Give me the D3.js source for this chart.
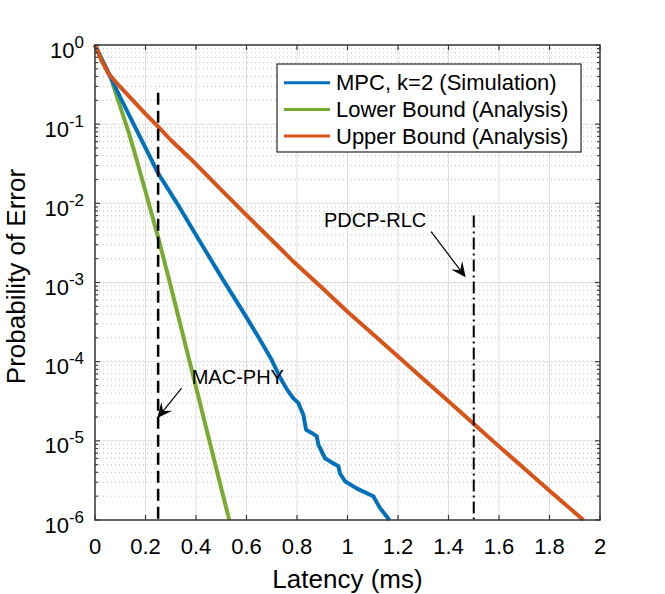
<!DOCTYPE html>
<html>
<head>
<meta charset="utf-8">
<script src="https://cdn.jsdelivr.net/npm/d3@7"></script>
<style>
  body { margin: 0; background: #fff; }
  text { font-family: "Liberation Sans", Arial, sans-serif; fill: #000; }
</style>
</head>
<body>
<div class="chart"></div>
<script>
// values (latency in ms, error as log10 exponent)
const mpcX   = [0, 0.025, 0.05, 0.1, 0.15, 0.2, 0.25, 0.325, 0.4, 0.508, 0.6, 0.653, 0.7, 0.733, 0.76, 0.785, 0.805, 0.825, 0.836, 0.858, 0.878, 0.885, 0.911, 0.931, 0.964, 0.97, 0.99, 1.036, 1.102, 1.129, 1.166];
const mpcExp = [0, -0.17, -0.33, -0.66, -0.98, -1.3, -1.62, -2.0, -2.4, -2.97, -3.44, -3.72, -3.98, -4.2, -4.35, -4.46, -4.52, -4.67, -4.86, -4.9, -4.94, -5.05, -5.22, -5.26, -5.32, -5.41, -5.51, -5.6, -5.7, -5.85, -6.0];

const lowerX   = [0, 0.03, 0.059, 0.1, 0.135, 0.165, 0.2, 0.25, 0.294, 0.363, 0.4, 0.45, 0.5, 0.532];
const lowerExp = [0, -0.2, -0.38, -0.78, -1.12, -1.45, -1.85, -2.43, -2.97, -3.85, -4.32, -4.96, -5.6, -6.0];

const upperX   = [0, 0.025, 0.053, 0.1, 0.15, 0.2, 0.25, 0.3, 0.376, 0.5, 0.6, 0.733, 0.779, 0.9, 1.0, 1.1, 1.208, 1.3, 1.4, 1.505, 1.6, 1.7, 1.8, 1.934];
const upperExp = [0, -0.19, -0.36, -0.53, -0.7, -0.87, -1.03, -1.2, -1.43, -1.83, -2.15, -2.567, -2.715, -3.07, -3.37, -3.65, -3.956, -4.22, -4.5, -4.8, -5.07, -5.35, -5.63, -6.0];

const seriesNames  = ["MPC, k=2 (Simulation)", "Lower Bound (Analysis)", "Upper Bound (Analysis)"];
const seriesColors = ["#0072BD", "#77AC30", "#D95319"];

const xTicks   = [0, 0.2, 0.4, 0.6, 0.8, 1, 1.2, 1.4, 1.6, 1.8, 2];
const yTickExp = [0, -1, -2, -3, -4, -5, -6];

// vertical markers: [latency, top value]
const macLine  = [0.25, 0.25];
const pdcpLine = [1.5, 0.007];

// annotations: text pos, arrow tail, arrow tip  (latency, log10 error)
const macNote  = { label: "MAC-PHY",  text: [0.383, -4.28], tail: [0.343, -4.335], tip: [0.247, -4.713] };
const pdcpNote = { label: "PDCP-RLC", text: [0.907, -2.294], tail: [1.331, -2.357], tip: [1.468, -2.933] };

const W = 665, H = 594;
const L = 95, R = 600, T = 45, B = 520;

const svg = d3.select(".chart").append("svg")
  .attr("width", W).attr("height", H);

const x = d3.scaleLinear().domain([0, 2]).range([L, R]);
const y = d3.scaleLog().domain([1e-6, 1]).range([B, T]);

// minor grid (dotted) on y
const minorVals = [];
for (let e = -6; e < 0; e++) {
  for (let k = 2; k <= 9; k++) minorVals.push(k * Math.pow(10, e));
}
svg.append("g").selectAll("line").data(minorVals).enter().append("line")
  .attr("x1", L).attr("x2", R)
  .attr("y1", d => y(d)).attr("y2", d => y(d))
  .attr("stroke", "#c4c4c4").attr("stroke-width", 1)
  .attr("stroke-dasharray", "1,3");

// major grid
svg.append("g").selectAll("line").data(xTicks).enter().append("line")
  .attr("x1", d => x(d)).attr("x2", d => x(d))
  .attr("y1", T).attr("y2", B)
  .attr("stroke", "#dedede").attr("stroke-width", 1);
svg.append("g").selectAll("line").data(yTickExp).enter().append("line")
  .attr("x1", L).attr("x2", R)
  .attr("y1", d => y(Math.pow(10, d))).attr("y2", d => y(Math.pow(10, d)))
  .attr("stroke", "#dedede").attr("stroke-width", 1);

// curves
const line = d3.line().x(d => x(d[0])).y(d => y(Math.pow(10, d[1])));
const series = [
  d3.zip(mpcX, mpcExp),
  d3.zip(lowerX, lowerExp),
  d3.zip(upperX, upperExp)
];
// draw order: lower, mpc, upper (upper on top like the figure)
[1, 0, 2].forEach(i => {
  svg.append("path")
    .datum(series[i])
    .attr("d", line)
    .attr("fill", "none")
    .attr("stroke", seriesColors[i])
    .attr("stroke-width", 4)
    .attr("stroke-linejoin", "round");
});

// vertical marker lines
svg.append("line")
  .attr("x1", x(macLine[0])).attr("x2", x(macLine[0]))
  .attr("y1", y(macLine[1])).attr("y2", y(1e-6))
  .attr("stroke", "#000").attr("stroke-width", 2.5)
  .attr("stroke-dasharray", "12,6");
svg.append("line")
  .attr("x1", x(pdcpLine[0])).attr("x2", x(pdcpLine[0]))
  .attr("y1", y(pdcpLine[1])).attr("y2", y(1e-6))
  .attr("stroke", "#000").attr("stroke-width", 2)
  .attr("stroke-dasharray", "12,4,2,4");

// annotations with arrows
function drawNote(n) {
  const tx = x(n.tail[0]), ty = y(Math.pow(10, n.tail[1]));
  const px = x(n.tip[0]),  py = y(Math.pow(10, n.tip[1]));
  const len = Math.hypot(px - tx, py - ty);
  const ux = (px - tx) / len, uy = (py - ty) / len;
  const nx = -uy, ny = ux;
  const hl = 15, hw = 7;
  svg.append("line")
    .attr("x1", tx).attr("y1", ty)
    .attr("x2", px - ux * 9).attr("y2", py - uy * 9)
    .attr("stroke", "#000").attr("stroke-width", 1.2);
  const pts = [
    [px, py],
    [px - ux * hl + nx * hw, py - uy * hl + ny * hw],
    [px - ux * hl * 0.6, py - uy * hl * 0.6],
    [px - ux * hl - nx * hw, py - uy * hl - ny * hw]
  ];
  svg.append("path")
    .attr("d", "M" + pts.map(p => p.join(",")).join("L") + "Z")
    .attr("fill", "#000");
  svg.append("text")
    .attr("x", x(n.text[0])).attr("y", y(Math.pow(10, n.text[1])))
    .attr("font-size", 20)
    .text(n.label);
}
drawNote(macNote);
drawNote(pdcpNote);

// axes box and ticks (inward, all four sides)
const axisColor = "#3a3a3a";
svg.append("rect")
  .attr("x", L).attr("y", T).attr("width", R - L).attr("height", B - T)
  .attr("fill", "none").attr("stroke", axisColor).attr("stroke-width", 1.5);

const tk = svg.append("g").attr("stroke", axisColor).attr("stroke-width", 1.2);
xTicks.forEach(d => {
  tk.append("line").attr("x1", x(d)).attr("x2", x(d)).attr("y1", B).attr("y2", B - 5);
  tk.append("line").attr("x1", x(d)).attr("x2", x(d)).attr("y1", T).attr("y2", T + 5);
});
yTickExp.forEach(d => {
  const yy = y(Math.pow(10, d));
  tk.append("line").attr("x1", L).attr("x2", L + 5).attr("y1", yy).attr("y2", yy);
  tk.append("line").attr("x1", R).attr("x2", R - 5).attr("y1", yy).attr("y2", yy);
});
minorVals.forEach(d => {
  const yy = y(d);
  tk.append("line").attr("x1", L).attr("x2", L + 3).attr("y1", yy).attr("y2", yy);
  tk.append("line").attr("x1", R).attr("x2", R - 3).attr("y1", yy).attr("y2", yy);
});

// tick labels
svg.append("g").selectAll("text").data(xTicks).enter().append("text")
  .attr("x", d => x(d)).attr("y", B + 34)
  .attr("text-anchor", "middle")
  .attr("font-size", 22)
  .attr("fill", "#262626")
  .text(d => d3.format("~g")(d));

const yl = svg.append("g").selectAll("text").data(yTickExp).enter().append("text")
  .attr("x", L - 11)
  .attr("y", d => y(Math.pow(10, d)) + 12.5)
  .attr("text-anchor", "end")
  .attr("font-size", 22)
  .attr("fill", "#262626");
yl.append("tspan").text("10");
yl.append("tspan").attr("dy", -10).attr("font-size", 17).text(d => d);

// axis labels
svg.append("text")
  .attr("x", (L + R) / 2).attr("y", 588)
  .attr("text-anchor", "middle")
  .attr("font-size", 26)
  .attr("fill", "#262626")
  .text("Latency (ms)");
svg.append("text")
  .attr("transform", `translate(25,${(T + B) / 2 - 6}) rotate(-90)`)
  .attr("text-anchor", "middle")
  .attr("font-size", 26)
  .attr("fill", "#262626")
  .text("Probability of Error");

// legend
const lg = svg.append("g");
lg.append("rect")
  .attr("x", 277).attr("y", 64).attr("width", 304).attr("height", 88)
  .attr("fill", "#fff").attr("stroke", "#262626").attr("stroke-width", 1.2);
seriesNames.forEach((name, i) => {
  const ly = 82.7 + i * 26.7;
  lg.append("line")
    .attr("x1", 284).attr("x2", 330).attr("y1", ly).attr("y2", ly)
    .attr("stroke", seriesColors[i]).attr("stroke-width", 3);
  lg.append("text")
    .attr("x", 336).attr("y", ly + 7.5)
    .attr("font-size", 22)
    .text(name);
});
</script>
</body>
</html>
